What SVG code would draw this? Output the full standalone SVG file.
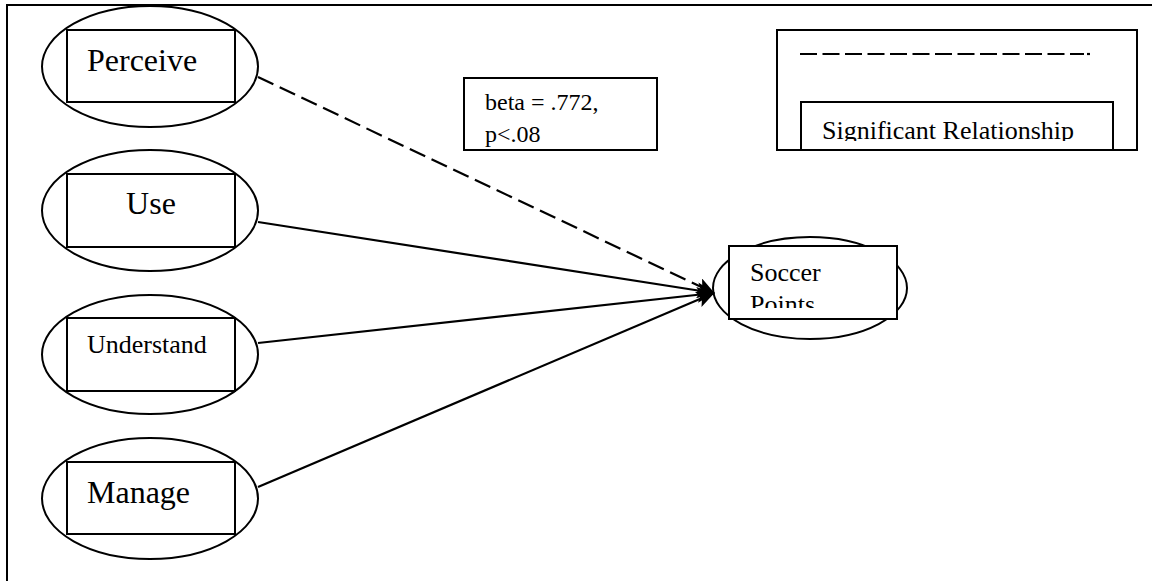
<svg xmlns="http://www.w3.org/2000/svg" width="1152" height="581" viewBox="0 0 1152 581">
  <style>
    .frame { fill: none; stroke: #000; stroke-width: 2; }
    .oval { fill: #fff; stroke: #000; stroke-width: 2; }
    .box { fill: #fff; stroke: #000; stroke-width: 2; }
    text { font-family: 'Liberation Serif', 'DejaVu Serif', serif; fill: #000; }
    .big { font-size: 32px; }
    .mid { font-size: 26px; }
    .small { font-size: 24px; }
    .edge { fill: none; stroke: #000; stroke-width: 2.2; }
    .dashed { stroke-dasharray: 17 7; }
  </style>
  <defs>
    <marker id="arrow" markerUnits="userSpaceOnUse" markerWidth="18" markerHeight="16"
            viewBox="0 0 18 16" refX="17" refY="8" orient="auto">
      <path d="M0,0 L18,8 L0,16 L4,8 z" fill="#000"/>
    </marker>
    <clipPath id="clipSoccer"><rect x="730" y="247" width="166" height="61"/></clipPath>
    <clipPath id="clipBeta"><rect x="465" y="79" width="191" height="69"/></clipPath>
    <clipPath id="clipLegend"><rect x="802" y="103" width="310" height="38"/></clipPath>
  </defs>

  <!-- page frame (only top and left edges fall inside the canvas) -->
  <g id="frame">
    <path class="frame" d="M7,581 L7,5 L1152,5"/>
  </g>

  <g font-family="Liberation Serif, DejaVu Serif, serif">
    <!-- predictor nodes -->
    <g id="perceive">
      <ellipse class="oval" cx="150" cy="66.5" rx="108" ry="60.5"/>
      <rect class="box" x="67" y="30" width="168" height="72"/>
      <text class="big" x="87" y="71">Perceive</text>
    </g>
    <g id="use">
      <ellipse class="oval" cx="150" cy="210.5" rx="108" ry="60.5"/>
      <rect class="box" x="67" y="174" width="168" height="73"/>
      <text class="big" x="151" y="214" text-anchor="middle">Use</text>
    </g>
    <g id="understand">
      <ellipse class="oval" cx="150" cy="354.5" rx="108" ry="59.5"/>
      <rect class="box" x="67" y="318" width="168" height="73"/>
      <text class="mid" x="87" y="353">Understand</text>
    </g>
    <g id="manage">
      <ellipse class="oval" cx="150" cy="498.5" rx="108" ry="60.5"/>
      <rect class="box" x="67" y="462" width="168" height="72"/>
      <text class="big" x="87" y="503">Manage</text>
    </g>

    <!-- outcome node -->
    <g id="soccer">
      <ellipse class="oval" cx="810" cy="288" rx="97" ry="51"/>
      <rect class="box" x="729" y="246" width="168" height="73"/>
      <g clip-path="url(#clipSoccer)">
        <text class="mid" x="750" y="281">Soccer</text>
        <text class="mid" x="750" y="313">Points</text>
      </g>
    </g>

    <!-- coefficient note -->
    <g id="beta-note">
      <rect class="box" x="464" y="78" width="193" height="72"/>
      <g clip-path="url(#clipBeta)">
        <text class="small" x="485" y="110">beta = .772,</text>
        <text class="small" x="485" y="142">p&lt;.08</text>
      </g>
    </g>

    <!-- legend -->
    <g id="legend">
      <rect class="box" x="777" y="30" width="360" height="120"/>
      <line class="edge" x1="800" y1="54" x2="1084" y2="54" stroke-dasharray="17 5.5" stroke-width="2"/>
      <line class="edge" x1="1087" y1="54" x2="1090" y2="54" stroke-width="2"/>
      <rect class="box" x="801" y="102" width="312" height="48"/>
      <g clip-path="url(#clipLegend)">
        <text class="mid" x="822" y="139">Significant Relationship</text>
      </g>
    </g>
  </g>

  <!-- paths into the outcome -->
  <g id="connectors">
    <line class="edge dashed" x1="258" y1="77" x2="714" y2="293" marker-end="url(#arrow)"/>
    <line class="edge" x1="258" y1="222" x2="714" y2="293" marker-end="url(#arrow)"/>
    <line class="edge" x1="258" y1="343" x2="714" y2="293" marker-end="url(#arrow)"/>
    <line class="edge" x1="258" y1="487" x2="714" y2="293" marker-end="url(#arrow)"/>
  </g>
</svg>
